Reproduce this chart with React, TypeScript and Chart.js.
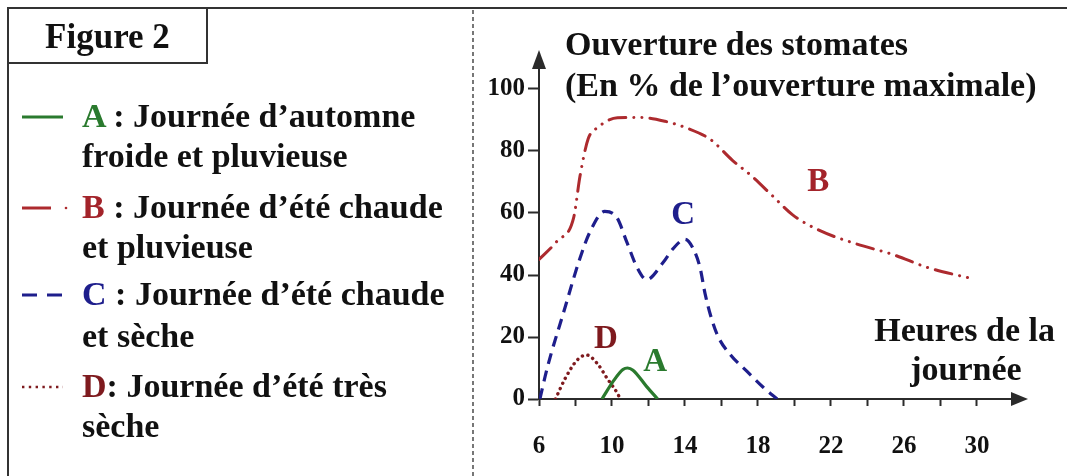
import React, { useEffect, useRef } from 'react';
import { Chart, registerables } from 'chart.js';

Chart.register(...registerables);

// ---- Data (hours of the day / stomatal opening in % of maximum) ----
const hoursA = [9.45, 10.1, 10.6, 10.85, 11.15, 11.9, 12.5];
const valuesA = [0, 6, 9.5, 10, 9.3, 4, 0];

const hoursB = [6, 7, 7.9, 8.25, 8.7, 9.2, 10.3, 11.6, 12.9, 14.1, 15.4, 16.6, 17.7, 18.8, 19.9, 21.4, 23.4, 25.4, 27.3, 29.6];
const valuesB = [45, 51, 58.5, 72, 84, 87.5, 90.7, 90.8, 89.6, 87.4, 83.7, 77, 71.7, 65.5, 59.4, 54.3, 50, 46.6, 42.4, 39];

const hoursC = [6.05, 6.45, 7.35, 8.25, 8.8, 9.6, 10.27, 10.82, 11.37, 11.9, 12.8, 13.35, 14.0, 14.45, 14.82, 15.1, 15.4, 15.8, 16.5, 17.4, 18.3, 19.05];
const valuesC = [0, 10, 28, 45.5, 54, 60.5, 58.5, 50.5, 42.5, 38.5, 44, 48.5, 51.5, 48.5, 42.5, 34, 27, 20.3, 14.2, 8.9, 3.7, 0];

const hoursD = [6.9, 7.45, 8.1, 8.6, 9.2, 9.75, 10.3, 10.45];
const valuesD = [0, 6.8, 12.6, 14.2, 11.4, 6.5, 1.8, 0];

const xLabelledTicks = [6, 10, 14, 18, 22, 26, 30];
const yTicks = [0, 20, 40, 60, 80, 100];

const curveNames = ['A', 'B', 'C', 'D'];
const curveLabelHours = [12.36, 21.3, 13.9, 9.67];
const curveLabelValues = [12.6, 70.6, 60, 20];

const legendLetters = ['A', 'B', 'C', 'D'];
const legendLine1 = [' : Journée d’automne', ' : Journée d’été chaude', ' : Journée d’été chaude', ': Journée d’été très'];
const legendLine2 = ['froide et pluvieuse', 'et pluvieuse', 'et sèche', 'sèche'];

const yTitle1 = 'Ouverture des stomates';
const yTitle2 = '(En % de l’ouverture maximale)';
const xTitle1 = 'Heures de la';
const xTitle2 = 'journée';
const figureTitle = 'Figure 2';

// ---- Styles ----
const FONT = "'Liberation Serif', 'Times New Roman', serif";
const AXIS = '#2b2b2b';
const GREEN = '#2a7a2e';
const RED = '#ad2a2e';
const RED_TEXT = '#a3232a';
const BLUE = '#1e1e8c';
const MAROON = '#7e1a1e';
const seriesColors = [GREEN, RED_TEXT, BLUE, MAROON];

const W = 1067;
const H = 476;

const pts = (h: number[], v: number[]) => h.map((x, i) => ({ x, y: v[i] }));

const overlayPlugin = {
  id: 'overlay',
  afterDraw(chart: any) {
    const { ctx, chartArea: a, scales } = chart;
    ctx.save();
    ctx.fillStyle = AXIS;
    // y-axis arrow head
    ctx.beginPath();
    ctx.moveTo(a.left, a.top - 18);
    ctx.lineTo(a.left - 7, a.top + 1);
    ctx.lineTo(a.left + 7, a.top + 1);
    ctx.closePath();
    ctx.fill();
    // x-axis arrow head
    ctx.beginPath();
    ctx.moveTo(a.right + 16, a.bottom);
    ctx.lineTo(a.right - 1, a.bottom - 7);
    ctx.lineTo(a.right - 1, a.bottom + 7);
    ctx.closePath();
    ctx.fill();
    // curve labels
    ctx.font = `bold 33px ${FONT}`;
    ctx.textAlign = 'center';
    ctx.textBaseline = 'alphabetic';
    curveNames.forEach((n, i) => {
      ctx.fillStyle = seriesColors[i];
      const px = scales.x.getPixelForValue(curveLabelHours[i]);
      const py = scales.y.getPixelForValue(curveLabelValues[i]);
      ctx.fillText(n, px, py + 11);
    });
    ctx.restore();
  },
};

function ChartCanvas() {
  const ref = useRef<HTMLCanvasElement | null>(null);
  useEffect(() => {
    const canvas = ref.current;
    if (!canvas) return;
    const tickFont = { family: FONT, size: 25, weight: 'bold' as const };
    const chart = new Chart(canvas, {
      type: 'line',
      data: {
        datasets: [
          {
            label: 'A',
            data: pts(hoursA, valuesA),
            borderColor: GREEN,
            borderWidth: 3.2,
            cubicInterpolationMode: 'monotone',
            pointRadius: 0,
            fill: false,
          },
          {
            label: 'B',
            data: pts(hoursB, valuesB),
            borderColor: RED,
            borderWidth: 3,
            borderDash: [17, 8, 0.1, 8, 0.1, 8],
            borderCapStyle: 'round',
            cubicInterpolationMode: 'monotone',
            pointRadius: 0,
            fill: false,
          },
          {
            label: 'C',
            data: pts(hoursC, valuesC),
            borderColor: BLUE,
            borderWidth: 3.2,
            borderDash: [11, 7],
            cubicInterpolationMode: 'monotone',
            pointRadius: 0,
            fill: false,
          },
          {
            label: 'D',
            data: pts(hoursD, valuesD),
            borderColor: MAROON,
            borderWidth: 3.4,
            borderDash: [0.1, 5.6],
            borderCapStyle: 'round',
            cubicInterpolationMode: 'monotone',
            pointRadius: 0,
            fill: false,
          },
        ],
      },
      options: {
        responsive: false,
        animation: false,
        devicePixelRatio: 1,
        layout: { padding: { left: 0, top: 68, right: 55, bottom: 0 } },
        plugins: {
          legend: { display: false },
          tooltip: { enabled: false },
          title: { display: false },
        },
        scales: {
          x: {
            type: 'linear',
            min: 6,
            max: 31.92,
            afterFit: (s: any) => {
              s.height = 77;
            },
            afterBuildTicks: (s: any) => {
              s.ticks = s.ticks.filter((t: any) => t.value <= 30.001);
            },
            border: { display: true, color: AXIS, width: 2 },
            grid: {
              display: true,
              drawOnChartArea: false,
              drawTicks: true,
              tickLength: 7,
              tickColor: AXIS,
              tickWidth: 2,
            },
            ticks: {
              stepSize: 2,
              includeBounds: false,
              autoSkip: false,
              maxRotation: 0,
              minRotation: 0,
              padding: 26,
              color: '#111',
              font: tickFont,
              callback: (v: any) => (xLabelledTicks.includes(Number(v)) ? String(v) : ''),
            },
          },
          y: {
            type: 'linear',
            min: 0,
            max: 331 / 3.1,
            afterFit: (s: any) => {
              s.width = 539;
            },
            afterBuildTicks: (s: any) => {
              s.ticks = s.ticks.filter((t: any) => yTicks.includes(t.value));
            },
            border: { display: true, color: AXIS, width: 2 },
            grid: {
              display: true,
              drawOnChartArea: false,
              drawTicks: true,
              tickLength: 11,
              tickColor: AXIS,
              tickWidth: 2,
            },
            ticks: {
              stepSize: 20,
              includeBounds: false,
              autoSkip: false,
              padding: 3,
              color: '#111',
              font: tickFont,
            },
          },
        },
      } as any,
      plugins: [overlayPlugin],
    });
    return () => chart.destroy();
  }, []);
  return (
    <canvas
      ref={ref}
      width={W}
      height={H}
      style={{ position: 'absolute', left: 0, top: 0, width: W, height: H }}
    />
  );
}

const textBase: React.CSSProperties = {
  position: 'absolute',
  fontFamily: FONT,
  fontWeight: 'bold',
  fontSize: 34,
  lineHeight: '40px',
  color: '#111',
  whiteSpace: 'nowrap',
};

export default function App() {
  const line1Y = [117, 208, 295, 387];
  const line2Y = [157, 248, 337, 427];
  return (
    <div
      style={{
        position: 'absolute',
        left: 0,
        top: 0,
        width: W,
        height: H,
        background: '#fff',
        overflow: 'hidden',
      }}
    >
      <ChartCanvas />
      <svg
        width={W}
        height={H}
        style={{ position: 'absolute', left: 0, top: 0 }}
      >
        {/* outer frame (top & left) */}
        <line x1={8} y1={8} x2={W} y2={8} stroke="#333" strokeWidth={2} />
        <line x1={8} y1={8} x2={8} y2={H} stroke="#333" strokeWidth={2} />
        {/* Figure box */}
        <rect x={8} y={8} width={199} height={55} fill="none" stroke="#333" strokeWidth={2} />
        {/* separator */}
        <line x1={473} y1={10} x2={473} y2={H} stroke="#555" strokeWidth={1.6} strokeDasharray="4 3" />
        {/* legend samples */}
        <line x1={22} y1={line1Y[0]} x2={63} y2={line1Y[0]} stroke={GREEN} strokeWidth={3} />
        <line x1={22} y1={line1Y[1]} x2={51} y2={line1Y[1]} stroke={RED} strokeWidth={3} />
        <circle cx={66} cy={line1Y[1]} r={1.3} fill={RED} />
        <line x1={22} y1={line1Y[2]} x2={63} y2={line1Y[2]} stroke={BLUE} strokeWidth={3} strokeDasharray="15 10" />
        <line x1={22} y1={line1Y[3]} x2={63} y2={line1Y[3]} stroke={MAROON} strokeWidth={2.6} strokeDasharray="2.4 4.4" />
      </svg>
      <div
        style={{
          ...textBase,
          fontSize: 35,
          left: 8,
          width: 199,
          top: 17,
          textAlign: 'center',
        }}
      >
        {figureTitle}
      </div>
      {legendLetters.map((l, i) => (
        <React.Fragment key={l}>
          <div style={{ ...textBase, left: 82, top: line1Y[i] - 21 }}>
            <span style={{ color: seriesColors[i] }}>{l}</span>
            {legendLine1[i]}
          </div>
          <div style={{ ...textBase, left: 82, top: line2Y[i] - 21 }}>{legendLine2[i]}</div>
        </React.Fragment>
      ))}
      <div style={{ ...textBase, left: 565, top: 24 }}>{yTitle1}</div>
      <div style={{ ...textBase, left: 565, top: 65 }}>{yTitle2}</div>
      <div style={{ ...textBase, right: W - 1055, top: 310, textAlign: 'right' }}>{xTitle1}</div>
      <div style={{ ...textBase, left: 966, top: 349, transform: 'translateX(-50%)' }}>{xTitle2}</div>
    </div>
  );
}
